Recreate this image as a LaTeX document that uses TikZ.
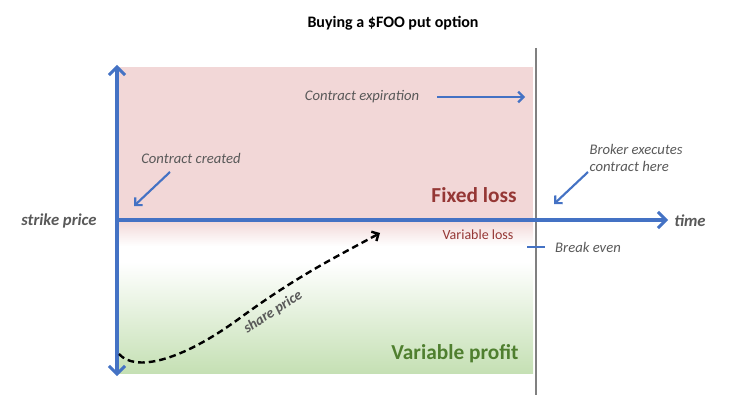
\documentclass[tikz,border=0pt]{standalone}
\usepackage{fontspec}
\setmainfont{Carlito}
\usetikzlibrary{arrows.meta}
\definecolor{pinkbg}{HTML}{F2D7D7}
\definecolor{greenbg}{HTML}{C5E0B4}
\definecolor{axblue}{HTML}{4472C4}
\definecolor{lossred}{HTML}{953735}
\definecolor{profgreen}{HTML}{4F7F2F}
\definecolor{txtgrey}{HTML}{595959}
\tikzset{
  ax/.style={axblue, line width=2.6pt, -{Straight Barb[length=6pt,width=12pt,line width=2.2pt]}},
  pointer/.style={axblue, line width=1.6pt, -{Straight Barb[length=4pt,width=8pt]}},
  note/.style={txtgrey, font=\itshape\fontsize{11}{13}\selectfont, align=left},
}
\begin{document}
\begin{tikzpicture}[x=0.75pt,y=-0.75pt]
\useasboundingbox (0,0) rectangle (730,409);
% backgrounds
\fill[pinkbg] (118,67) rectangle (533,220);
\shade[top color=pinkbg, bottom color=white] (118,220) rectangle (533,246);
\fill[white] (118,246) rectangle (533,262);
\shade[top color=white, bottom color=greenbg] (118,262) rectangle (533,373);
% expiration line
\draw[gray, line width=1.3pt] (536,48) -- (536,395);
% axes
\coordinate (ytop) at (117,65);
\coordinate (ybot) at (117,376);
\coordinate (orig) at (117,220);
\coordinate (xend) at (668,220);
\draw[ax] (orig) -- (ytop);
\draw[ax] (orig) -- (ybot);
\draw[ax] (orig) -- (xend);
% texts
\node (title) at (393,23) {\bfseries\fontsize{12}{14}\selectfont Buying a \$FOO put option};
\node[txtgrey, font=\bfseries\itshape\fontsize{12.5}{14}\selectfont] (sp) at (59,221) {strike price};
\node[txtgrey, font=\bfseries\itshape\fontsize{12.5}{14}\selectfont] (tm) at (690,221) {time};
\node[note] (cc) at (191,158) {Contract created};
\coordinate (cca) at (170,172); \coordinate (ccb) at (134,206);
\draw[pointer] (cca) -- (ccb);
\node[note] (ce) at (362,97) {Contract expiration};
\coordinate (cea) at (437,97); \coordinate (ceb) at (525,97);
\draw[pointer] (cea) -- (ceb);
\node[note, align=left] (br) at (636,158) {Broker executes\\contract here};
\coordinate (bra) at (588,172); \coordinate (brb) at (554,204);
\draw[pointer] (bra) -- (brb);
\node[lossred, font=\bfseries\fontsize{16}{18}\selectfont] (fl) at (474,195) {Fixed loss};
\node[lossred, font=\fontsize{10.5}{12}\selectfont] (vl) at (478,235) {Variable loss};
\coordinate (be1) at (527,247); \coordinate (be2) at (545,247);
\draw[axblue, line width=1.6pt] (be1) -- (be2);
\node[note] (be) at (588,247) {Break even};
\node[profgreen, font=\bfseries\fontsize{16}{18}\selectfont] (vp) at (455,354) {Variable profit};
% share price path
\coordinate (s0) at (119,354);
\coordinate (s1) at (380,233);
\draw[black, line width=1.8pt, dash pattern=on 5pt off 3pt, -{Straight Barb[length=4pt,width=8pt]}]
  (s0) .. controls (135,372) and (180,362) .. (240,318) .. controls (300,274) and (340,255) .. (s1);
\node[txtgrey, rotate=33, font=\itshape\bfseries\fontsize{11}{13}\selectfont] (spl) at (273,312) {share price};
\end{tikzpicture}
\end{document}
